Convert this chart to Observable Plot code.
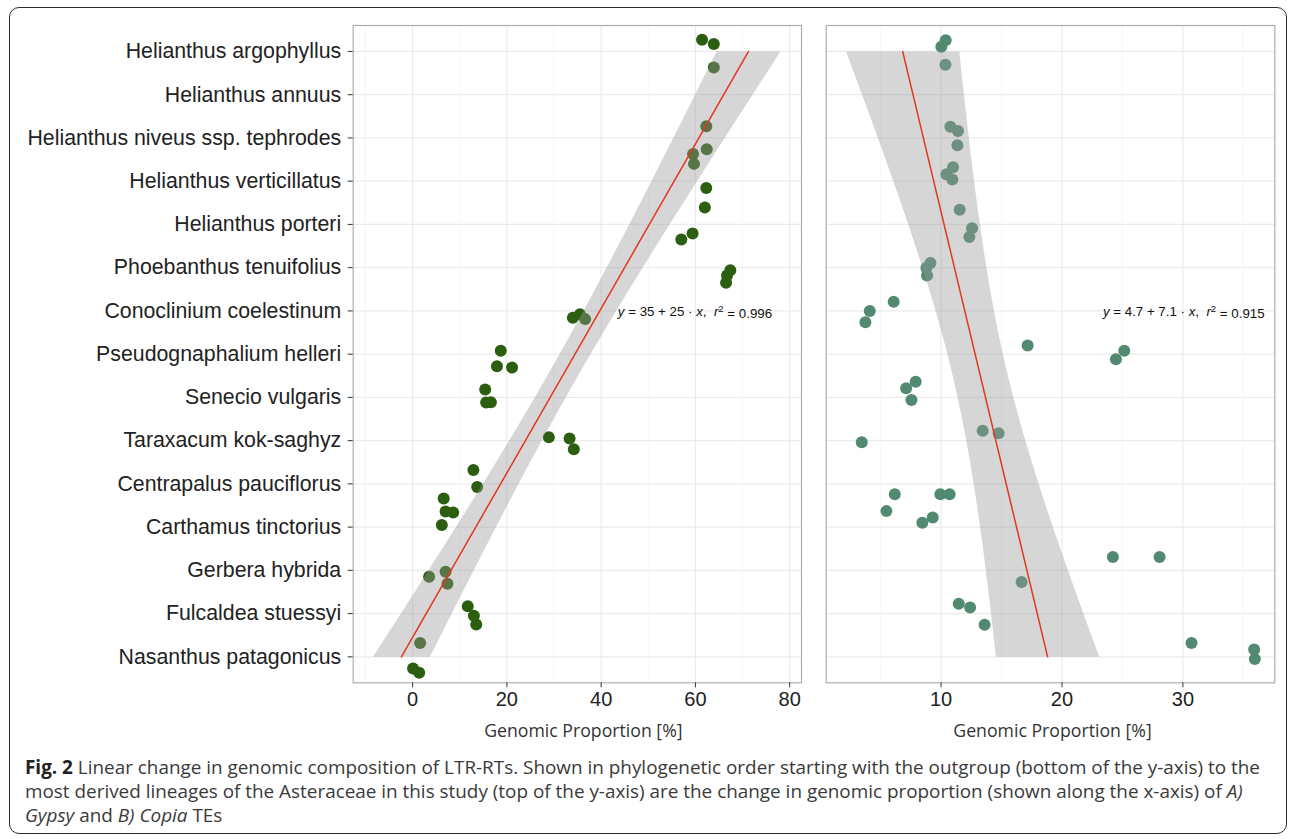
<!DOCTYPE html>
<html><head><meta charset="utf-8">
<script src="https://cdn.jsdelivr.net/npm/d3@7"></script>
<script src="https://cdn.jsdelivr.net/npm/@observablehq/plot@0.6"></script>
<style>
body{margin:0;background:#fff;width:1292px;height:839px;position:relative;overflow:hidden;}
#box{position:absolute;left:9px;top:7px;width:1278px;height:827px;border:1.6px solid #2a2a2a;border-radius:10px;box-sizing:border-box;}
#p1{position:absolute;left:0;top:0;}
#p2{position:absolute;left:812px;top:0;}
#cap{position:absolute;left:25px;top:755px;font-family:"Open Sans",sans-serif;font-size:18.9px;line-height:24px;color:#3a3a3a;white-space:nowrap;}
#cap b{color:#222;}
</style></head>
<body>
<div id="box"></div>
<div id="p1"></div>
<div id="p2"></div>
<div id="cap"><b>Fig. 2</b> Linear change in genomic composition of LTR-RTs. Shown in phylogenetic order starting with the outgroup (bottom of the y-axis) to the<br>most derived lineages of the Asteraceae in this study (top of the y-axis) are the change in genomic proportion (shown along the x-axis) of <i>A)</i><br><i>Gypsy</i> and <i>B)</i> <i>Copia</i> TEs</div>
<script>
// Species, bottom (outgroup, rank 1) to top (rank 15)
const species = [
  "Nasanthus patagonicus",
  "Fulcaldea stuessyi",
  "Gerbera hybrida",
  "Carthamus tinctorius",
  "Centrapalus pauciflorus",
  "Taraxacum kok-saghyz",
  "Senecio vulgaris",
  "Pseudognaphalium helleri",
  "Conoclinium coelestinum",
  "Phoebanthus tenuifolius",
  "Helianthus porteri",
  "Helianthus verticillatus",
  "Helianthus niveus ssp. tephrodes",
  "Helianthus annuus",
  "Helianthus argophyllus"
];

// A) Gypsy: species rank, genomic proportion [%], vertical jitter (row units)
const gypsyRank   = [15,15,15, 13,13,13, 12,12, 11,11,11, 10,10,10, 9,9,9, 8,8,8, 7,7,7, 6,6,6, 5,5,5, 4,4,4, 3,3,3, 2,2,2, 1,1,1];
const gypsyValue  = [61.4,63.9,63.9, 62.3,62.4,59.5, 59.7,62.3, 62.0,59.4,57.0, 67.4,66.7,66.5, 34.0,35.5,36.6, 18.7,17.9,21.1, 15.4,15.6,16.6, 28.9,33.3,34.2, 12.9,13.7,6.6, 7.0,8.6,6.2, 7.0,3.5,7.4, 11.7,13.0,13.5, 1.6,0.1,1.4];
const gypsyJitter = [0.27,0.17,-0.37, 0.27,-0.26,-0.37, 0.40,-0.16, 0.39,-0.21,-0.35, -0.06,-0.18,-0.35, -0.16,-0.08,-0.19, 0.08,-0.28,-0.31, 0.18,-0.12,-0.11, 0.08,0.05,-0.20, 0.32,-0.07,-0.34, 0.36,0.34,0.05, -0.03,-0.15,-0.31, 0.17,-0.05,-0.25, 0.32,-0.27,-0.37];

// B) Copia
const copiaRank   = [15,15,15, 13,13,13, 12,12,12, 11,11,11, 10,10,10, 9,9,9, 8,8,8, 7,7,7, 6,6,6, 5,5,5, 4,4,4, 3,3,3, 2,2,2, 1,1,1];
const copiaValue  = [10.38,10.02,10.36, 10.77,11.40,11.35, 10.99,10.44,10.93, 11.54,12.56,12.34, 9.12,8.79,8.84, 6.08,4.10,3.74, 17.16,25.15,24.46, 7.90,7.11,7.55, 3.44,13.44,14.76, 6.17,9.94,10.71, 5.48,9.31,8.45, 24.21,28.07,16.66, 11.46,12.40,13.60, 30.71,35.89,35.95];
const copiaJitter = [0.26,0.11,-0.31, 0.26,0.16,-0.17, 0.32,0.16,0.04, 0.34,-0.09,-0.29, 0.11,0.0,-0.18, 0.21,0.0,-0.26, 0.20,0.08,-0.12, 0.36,0.21,-0.06, -0.04,0.23,0.17, -0.24,-0.24,-0.24, 0.37,0.22,0.10, 0.31,0.31,-0.27, 0.23,0.14,-0.26, 0.32,0.17,-0.05];

// Fit labels
const eqIntercept = ["35", "4.7"];
const eqSlope = ["25", "7.1"];
const eqR2 = ["0.996", "0.915"];
const eqX = [59.9, 30.07];
const eqRank = [8.97, 8.97];

// Axis ticks
const ticks1 = [0, 20, 40, 60, 80];
const minor1 = [-10, 10, 30, 50, 70];
const ticks2 = [10, 20, 30];
const minor2 = [5, 15, 25, 35];
const xDomain1 = [-12.6, 82.5];
const xDomain2 = [0.5, 37.6];

const rows = (rank, value, jit) => rank.map((r, i) => ({rank: r, species: species[r - 1], value: value[i], pos: r + jit[i]}));
const gypsy = rows(gypsyRank, gypsyValue, gypsyJitter);
const copia = rows(copiaRank, copiaValue, copiaJitter);

const FONT = "'Liberation Sans', Arial, Helvetica, sans-serif";
const W1 = 812, W2 = 475, H = 750;

function panel({data, domain, ticks, minor, color, width, marginLeft, marginRight, showY, k, titleDx}) {
  const marks = [
    Plot.gridX(minor, {stroke: "#f3f3f3", strokeOpacity: 1, strokeWidth: 0.7}),
    Plot.gridX(ticks, {stroke: "#ebebeb", strokeOpacity: 1, strokeWidth: 1.2}),
    Plot.gridY(d3.range(1, 16), {stroke: "#ebebeb", strokeOpacity: 1, strokeWidth: 1.2}),
    Plot.dot(data, {x: "value", y: "pos", r: 6, fill: color, stroke: null}),
    Plot.linearRegressionX(data, {x: "value", y: "rank", stroke: "#e3371e", strokeWidth: 1.5, fill: "#999999", fillOpacity: 0.4}),
    Plot.frame({stroke: "#adadad", strokeWidth: 1.2}),
    Plot.axisX(ticks, {tickSize: 5, tickPadding: 4, fontSize: 20, color: "#222", stroke: "#333", label: null}),
    Plot.text([k], {x: i => eqX[i], y: i => eqRank[i], text: i => `y = ${eqIntercept[i]} + ${eqSlope[i]} · x, r2 = ${eqR2[i]}`, fontSize: 13.3, fill: "#111", textAnchor: "middle"}),
    Plot.text(["Genomic Proportion [%]"], {frameAnchor: "bottom", dy: 54, dx: titleDx, fontFamily: "'Open Sans', sans-serif", fontSize: 17.7, fill: "#333"})
  ];
  if (showY) marks.push(Plot.axisY(d3.range(1, 16), {tickSize: 5, tickPadding: 7, fontSize: 21.3, color: "#222", stroke: "#333", tickFormat: r => species[r - 1], label: null}));
  return Plot.plot({
    width, height: H, marginLeft, marginRight, marginTop: 25, marginBottom: H - 682.3,
    x: {domain, axis: null},
    y: {domain: [0.4, 15.6], axis: null},
    style: {fontFamily: FONT, background: "transparent", overflow: "visible"},
    marks
  });
}

const svg1 = panel({data: gypsy, domain: xDomain1, ticks: ticks1, minor: minor1, color: "#2c5e0f", width: W1, marginLeft: 352.7, marginRight: W1 - 801, showY: true, k: 0, titleDx: 6});
const svg2 = panel({data: copia, domain: xDomain2, ticks: ticks2, minor: minor2, color: "#528a71", width: W2, marginLeft: 825.7 - 812, marginRight: W2 - (1274.3 - 812), showY: false, k: 1, titleDx: 2});
document.getElementById("p1").appendChild(svg1);
document.getElementById("p2").appendChild(svg2);

// Italic variables and superscript in equation labels
for (const svg of [svg1, svg2]) {
  d3.select(svg).selectAll("text").filter(function() { return this.textContent.startsWith("y = "); }).each(function() {
    const m = this.textContent.match(/^y = (\S+) \+ (\S+) · x, r2 = (\S+)$/);
    if (!m) return;
    const t = d3.select(this);
    t.text(null).attr("xml:space", "preserve");
    t.append("tspan").attr("font-style", "italic").text("y");
    t.append("tspan").text(` = ${m[1]} + ${m[2]} · `);
    t.append("tspan").attr("font-style", "italic").text("x");
    t.append("tspan").text(",  ");
    t.append("tspan").attr("font-style", "italic").text("r");
    t.append("tspan").attr("dy", "-0.45em").attr("font-size", "9.5").text("2");
    t.append("tspan").attr("dy", "0.45em").text(` = ${m[3]}`);
  });
}
</script>
</body></html>
